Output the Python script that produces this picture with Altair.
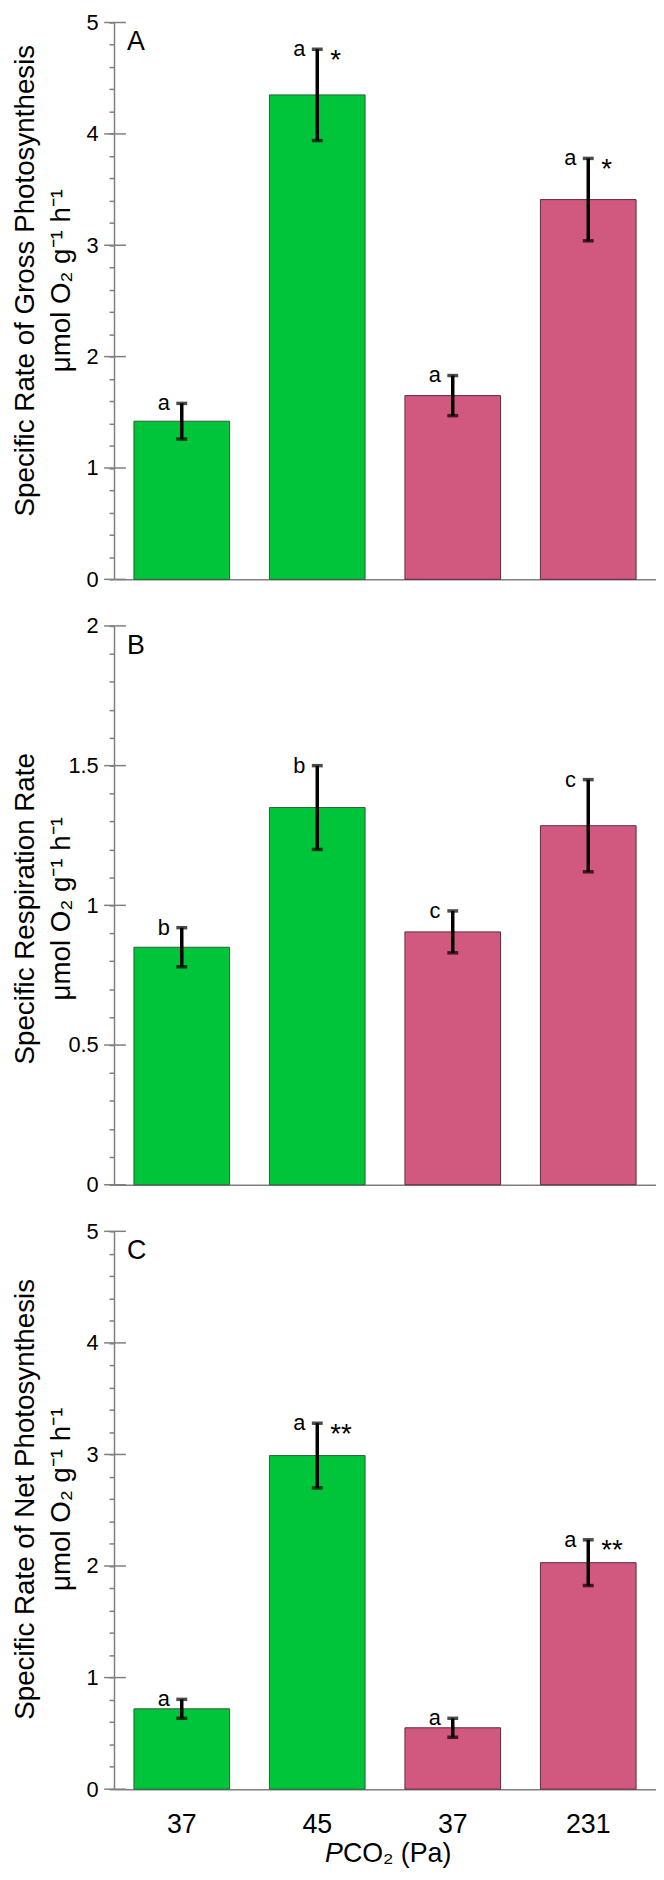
import altair as alt
import pandas as pd

# ---------------- data ----------------
groups = ["g1", "g2", "g3", "g4"]
pco2_labels = ["37", "45", "37", "231"]
treatment = ["green", "green", "pink", "pink"]

gross_mean = [1.42, 4.35, 1.65, 3.41]
gross_err = [0.16, 0.41, 0.18, 0.37]
gross_letters = ["a", "a", "a", "a"]
gross_stars = ["", "*", "", "*"]

resp_mean = [0.85, 1.35, 0.905, 1.285]
resp_err = [0.07, 0.15, 0.075, 0.165]
resp_letters = ["b", "b", "c", "c"]
resp_stars = ["", "", "", ""]

net_mean = [0.72, 2.99, 0.55, 2.03]
net_err = [0.085, 0.29, 0.085, 0.205]
net_letters = ["a", "a", "a", "a"]
net_stars = ["", "**", "", "**"]

ticks_0_5 = [0, 0.2, 0.4, 0.6, 0.8, 1, 1.2, 1.4, 1.6, 1.8, 2, 2.2, 2.4, 2.6, 2.8,
             3, 3.2, 3.4, 3.6, 3.8, 4, 4.2, 4.4, 4.6, 4.8, 5]
ticks_0_2 = [0, 0.1, 0.2, 0.3, 0.4, 0.5, 0.6, 0.7, 0.8, 0.9, 1, 1.1, 1.2, 1.3, 1.4,
             1.5, 1.6, 1.7, 1.8, 1.9, 2]

unit_line = "μmol O₂ g⁻¹ h⁻¹"

# ---------------- style ----------------
FONT = "Liberation Sans"
GRAY = "#7f7f7f"
W = 547
color_scale = alt.Scale(domain=["green", "pink"], range=["#00c43a", "#d1587e"])
stroke_scale = alt.Scale(domain=["green", "pink"], range=["#2f5d3a", "#5e2a3d"])

x_label_expr = "{" + ",".join(f"'{g}':'{l}'" for g, l in zip(groups, pco2_labels)) + "}[datum.value]"


def panel(means, errs, letters, stars, ymax, tick_vals, major_step, title, tag, h,
          title_y, last):
    df = pd.DataFrame({
        "group": groups, "treat": treatment, "mean": means, "err": errs,
        "letter": letters, "star": stars,
    })
    df["lo"] = df["mean"] - df["err"]
    df["hi"] = df["mean"] + df["err"]

    yscale = alt.Scale(domain=[0, ymax], nice=False, zero=True)
    xscale = alt.Scale(domain=groups, paddingInner=0.294, paddingOuter=0.147)
    inv = round(1 / major_step)

    yaxis = alt.Axis(
        values=tick_vals,
        labelExpr=f"abs(datum.value * {inv} - round(datum.value * {inv})) < 0.001 ? datum.label : ''",
        format="~g", tickSize=5, tickWidth=1.5, tickColor=GRAY,
        domainColor=GRAY, domainWidth=1.5, labelFontSize=22, labelPadding=11,
        labelColor="black", labelFont=FONT,
        title=[title, unit_line], titleFontSize=28, titleFontWeight="normal",
        titleFont=FONT, titleLineHeight=36, titleX=-75, titleY=title_y,
        titleColor="black", grid=False,
    )
    xaxis = alt.Axis(
        title=None, ticks=False, labels=last, labelExpr=x_label_expr,
        labelAngle=0, labelFontSize=27, labelPadding=23, labelColor="black",
        labelFont=FONT, domainColor=GRAY, domainWidth=1.5, grid=False,
    )

    base = alt.Chart(df)
    xe = alt.X("group:N", scale=xscale, axis=xaxis, sort=groups)

    bars = base.mark_bar(strokeWidth=1).encode(
        x=xe,
        y=alt.Y("mean:Q", scale=yscale, axis=yaxis),
        color=alt.Color("treat:N", scale=color_scale, legend=None),
        stroke=alt.Stroke("treat:N", scale=stroke_scale, legend=None),
    )
    err = base.mark_rule(color="black", strokeWidth=3.5).encode(
        x=xe, y=alt.Y("lo:Q", scale=yscale, axis=yaxis), y2="hi:Q",
    )
    cap_lo = base.mark_tick(color="black", thickness=3.5, size=11).encode(
        x=xe, y=alt.Y("lo:Q", scale=yscale, axis=yaxis))
    cap_hi = base.mark_tick(color="black", thickness=3.5, size=11).encode(
        x=xe, y=alt.Y("hi:Q", scale=yscale, axis=yaxis))
    lett = base.mark_text(fontSize=22, dx=-18, dy=7, baseline="alphabetic",
                          align="center", font=FONT, color="black").encode(
        x=xe, y=alt.Y("hi:Q", scale=yscale, axis=yaxis), text="letter:N")
    star = base.mark_text(fontSize=28, dx=13, dy=19.5, baseline="alphabetic",
                          align="left", font=FONT, color="black").encode(
        x=xe, y=alt.Y("hi:Q", scale=yscale, axis=yaxis), text="star:N")
    tag_t = alt.Chart(pd.DataFrame({"tag": [tag]})).mark_text(
        fontSize=27, align="left", baseline="alphabetic", font=FONT, color="black"
    ).encode(x=alt.value(13), y=alt.value(28), text="tag:N")
    major_vals = [v for v in tick_vals if abs(v * inv - round(v * inv)) < 1e-6]
    majors = alt.Chart(pd.DataFrame({"v": major_vals})).mark_rule(
        color=GRAY, strokeWidth=1.5
    ).encode(y=alt.Y("v:Q", scale=yscale, axis=yaxis), x=alt.value(-10), x2=alt.value(12))

    layers = [bars, err, cap_lo, cap_hi, lett, star, tag_t, majors]
    if last:
        p_t = alt.Chart(pd.DataFrame({"t": ["P"]})).mark_text(
            fontSize=27, fontStyle="italic", align="right", baseline="alphabetic",
            font=FONT, color="black"
        ).encode(x=alt.value(231), y=alt.value(h + 74), text="t:N")
        rest_t = alt.Chart(pd.DataFrame({"t": ["CO₂ (Pa)"]})).mark_text(
            fontSize=27, align="left", baseline="alphabetic", font=FONT, color="black"
        ).encode(x=alt.value(231), y=alt.value(h + 74), text="t:N")
        layers += [p_t, rest_t]
    return alt.layer(*layers).properties(width=W, height=h)


pA = panel(gross_mean, gross_err, gross_letters, gross_stars, 5, ticks_0_5, 1,
           "Specific Rate of Gross Photosynthesis", "A", 562, 260, False)
pB = panel(resp_mean, resp_err, resp_letters, resp_stars, 2, ticks_0_2, 0.5,
           "Specific Respiration Rate", "B", 564, 285, False)
pC = panel(net_mean, net_err, net_letters, net_stars, 5, ticks_0_5, 1,
           "Specific Rate of Net Photosynthesis", "C", 563, 270, True)

chart = alt.vconcat(pA, pB, pC, spacing=25).properties(
    padding={"left": 3, "top": -5, "right": 0, "bottom": 0}
).configure_view(strokeWidth=0)

chart.save("out.html", embed_options={"renderer": "svg", "actions": False})
